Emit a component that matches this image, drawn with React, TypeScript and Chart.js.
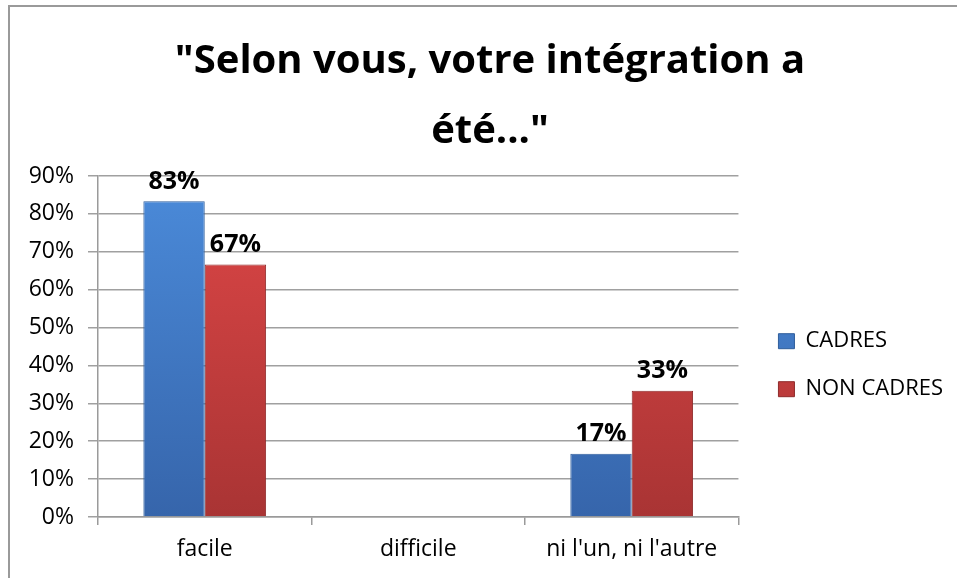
import React, { useEffect, useRef } from 'react';
import { Chart, registerables } from 'chart.js';

Chart.register(...registerables);

const titleLines = ['"Selon vous, votre intégration a', 'été..."'];
const categories = ['facile', 'difficile', "ni l'un, ni l'autre"];
const seriesNames = ['CADRES', 'NON CADRES'];
const cadresValues = [83.33, 0, 16.67];
const nonCadresValues = [66.67, 0, 33.33];
const yMin = 0;
const yMax = 90;
const yStep = 10;

const FONT = "'Open Sans', 'DejaVu Sans', sans-serif";

function makeGradient(chart: any, top: string, bottom: string, fallback: string) {
  const area = chart.chartArea;
  if (!area) return fallback;
  const g = chart.ctx.createLinearGradient(0, area.top, 0, area.bottom);
  g.addColorStop(0, top);
  g.addColorStop(1, bottom);
  return g;
}

const dataLabelPlugin = {
  id: 'dataLabels',
  afterDatasetsDraw(chart: any) {
    const ctx = chart.ctx;
    ctx.save();
    ctx.font = `bold 25px ${FONT}`;
    ctx.fillStyle = '#000';
    ctx.textAlign = 'center';
    ctx.textBaseline = 'bottom';
    chart.data.datasets.forEach((ds: any, di: number) => {
      const meta = chart.getDatasetMeta(di);
      meta.data.forEach((el: any, i: number) => {
        const v = ds.data[i];
        if (!v) return;
        ctx.fillText(Math.round(v) + '%', el.x, el.y - 7);
      });
    });
    ctx.restore();
  },
};

export default function App() {
  const canvasRef = useRef<HTMLCanvasElement | null>(null);

  useEffect(() => {
    document.body.style.margin = '0';
    const canvas = canvasRef.current;
    if (!canvas) return;
    const chart = new Chart(canvas, {
      type: 'bar',
      data: {
        labels: categories,
        datasets: [
          {
            label: seriesNames[0],
            data: cadresValues,
            backgroundColor: (c: any) => makeGradient(c.chart, '#4b8bda', '#3665ab', '#4078c4'),
            borderColor: '#2f5e9c',
            borderWidth: 1,
            categoryPercentage: 0.575,
            barPercentage: 1,
          },
          {
            label: seriesNames[1],
            data: nonCadresValues,
            backgroundColor: (c: any) => makeGradient(c.chart, '#de4747', '#a93434', '#c83c3c'),
            borderColor: '#8f2b2b',
            borderWidth: 1,
            categoryPercentage: 0.575,
            barPercentage: 1,
          },
        ],
      },
      options: {
        responsive: false,
        maintainAspectRatio: false,
        animation: false,
        layout: { padding: { left: 27, right: 4, top: 0, bottom: 0 } },
        font: { family: FONT },
        scales: {
          x: {
            grid: {
              drawOnChartArea: false,
              drawTicks: true,
              tickLength: 8,
              color: '#9a9a9a',
              lineWidth: 1.5,
            },
            border: { display: true, color: '#9a9a9a', width: 1.5 },
            ticks: {
              color: '#000',
              font: { family: FONT, size: 23 },
              padding: 11,
            },
            afterFit: (s: any) => {
              s.height = 61;
            },
          },
          y: {
            min: yMin,
            max: yMax,
            ticks: {
              stepSize: yStep,
              color: '#000',
              font: { family: FONT, size: 23 },
              padding: 14,
              callback: (v: any) => v + '%',
            },
            grid: {
              color: '#a0a0a0',
              lineWidth: 1.5,
              tickLength: 10,
            },
            border: { display: true, color: '#9a9a9a', width: 1.5 },
            afterFit: (s: any) => {
              s.width = 71;
            },
          },
          spacer: {
            type: 'linear',
            position: 'right',
            display: true,
            grid: { display: false, drawTicks: false },
            border: { display: false },
            ticks: { display: false },
            afterFit: (s: any) => {
              s.width = 14;
            },
          },
        },
        plugins: {
          title: {
            display: true,
            text: titleLines,
            color: '#000',
            font: { family: FONT, size: 40, weight: 'bold', lineHeight: 1.75 },
            padding: { top: 27, bottom: 9 },
          },
          legend: {
            display: true,
            position: 'right',
            fullSize: false,
            maxWidth: 260,
            title: { display: true, text: '', padding: { top: 12, bottom: 11 } },
            labels: {
              color: '#000',
              font: { family: FONT, size: 22 },
              boxWidth: 16,
              boxHeight: 15,
              padding: 26,
            },
          },
          tooltip: { enabled: false },
        },
      },
      plugins: [dataLabelPlugin],
    } as any);
    return () => chart.destroy();
  }, []);

  return (
    <div style={{ position: 'relative', width: 957, height: 578, overflow: 'hidden' }}>
      <canvas ref={canvasRef} width={957} height={578} style={{ display: 'block' }} />
      <div
        style={{
          position: 'absolute',
          left: 8,
          top: 5,
          width: 960,
          height: 580,
          borderLeft: '2px solid #9a9a9a',
          borderTop: '2px solid #9a9a9a',
          pointerEvents: 'none',
        }}
      />
    </div>
  );
}
